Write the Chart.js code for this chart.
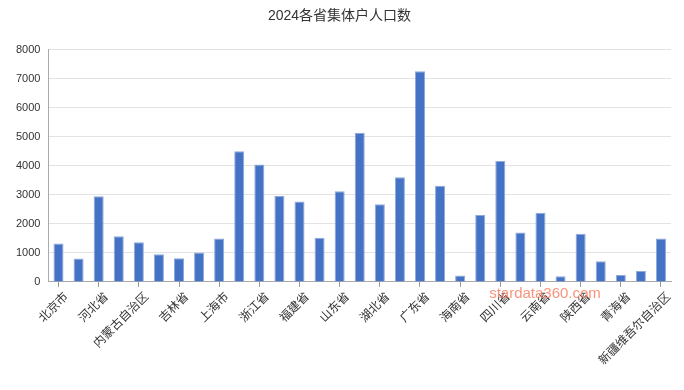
<!DOCTYPE html>
<html>
<head>
<meta charset="utf-8">
<script src="https://cdn.jsdelivr.net/npm/chart.js@4/dist/chart.umd.min.js"></script>
<style>
  html, body { margin: 0; padding: 0; background: #fff; }
  .wrap { width: 684px; height: 390px; position: relative; }
</style>
</head>
<body>
<div class="wrap"><canvas id="popChart"></canvas></div>
<script>
const provinces = ['北京市','天津市','河北省','山西省','内蒙古自治区','辽宁省','吉林省','黑龙江省','上海市','江苏省',
  '浙江省','安徽省','福建省','江西省','山东省','河南省','湖北省','湖南省','广东省','广西壮族自治区',
  '海南省','重庆市','四川省','贵州省','云南省','西藏自治区','陕西省','甘肃省','青海省','宁夏回族自治区','新疆维吾尔自治区'];
const collectivePop = [1325, 806, 2949, 1578, 1371, 956, 818, 1014, 1498, 4505,
  4044, 2961, 2776, 1521, 3122, 5138, 2673, 3606, 7258, 3318,
  219, 2304, 4171, 1705, 2385, 196, 1659, 714, 242, 380, 1498];
const yTicks = [0, 1000, 2000, 3000, 4000, 5000, 6000, 7000, 8000];

const FONT = 'Arial, "Liberation Sans", "Noto Sans CJK SC", sans-serif';

// watermark text drawn on top
const watermark = {
  id: 'watermark',
  afterDraw(chart) {
    const ctx = chart.ctx;
    ctx.save();
    ctx.font = '15px ' + FONT;
    ctx.fillStyle = 'rgba(248, 120, 90, 0.8)';
    ctx.textAlign = 'center';
    ctx.textBaseline = 'middle';
    ctx.fillText('stardata360.com', 545, 294);
    ctx.restore();
  }
};

new Chart(document.getElementById('popChart'), {
  type: 'bar',
  data: {
    labels: provinces,
    datasets: [{
      data: collectivePop,
      backgroundColor: '#4472C4',
      borderColor: '#8FAADC',
      borderWidth: { top: 1, left: 1, right: 1, bottom: 0 },
      categoryPercentage: 1,
      barPercentage: 0.5,
    }]
  },
  options: {
    responsive: true,
    maintainAspectRatio: false,
    animation: false,
    layout: { padding: { left: 8, right: 13, top: 4, bottom: 19 } },
    plugins: {
      legend: { display: false },
      tooltip: { enabled: false },
      title: {
        display: true,
        text: '2024各省集体户人口数',
        color: '#333',
        font: { family: FONT, size: 14, weight: 'normal' },
        padding: { top: 4, bottom: 25 },
      },
    },
    scales: {
      x: {
        grid: { display: true, drawOnChartArea: false, offset: false, tickLength: 5, color: '#999' },
        border: { color: '#aaa', width: 1 },
        ticks: {
          autoSkip: false,
          maxRotation: 45,
          minRotation: 45,
          color: '#333',
          font: { family: FONT, size: 12 },
          padding: 3,
          labelOffset: 8,
          callback: (v, i) => (i % 2 === 0 ? provinces[i] : null),
        },
      },
      y: {
        min: 0,
        max: 8000,
        afterBuildTicks: (axis) => { axis.ticks = yTicks.map(v => ({ value: v })); },
        grid: { color: '#e3e3e3', lineWidth: 1, drawTicks: false },
        border: { color: '#aaa', width: 1 },
        ticks: {
          color: '#333',
          font: { family: FONT, size: 11 },
          padding: 8,
          callback: (v) => String(v),
        },
      },
    },
  },
  plugins: [watermark],
});
</script>
</body>
</html>
